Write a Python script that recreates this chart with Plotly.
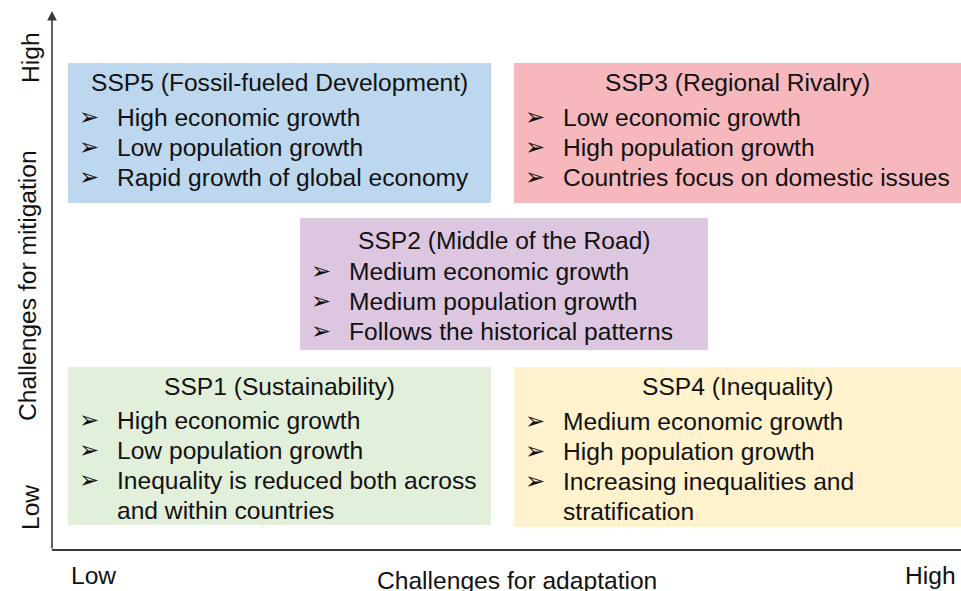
import plotly.graph_objects as go

# ---- data ----
scenarios = ["SSP5", "SSP3", "SSP2", "SSP1", "SSP4"]
titles = [
    "SSP5 (Fossil-fueled Development)",
    "SSP3 (Regional Rivalry)",
    "SSP2 (Middle of the Road)",
    "SSP1 (Sustainability)",
    "SSP4 (Inequality)",
]
bullets = [
    ["High economic growth", "Low population growth", "Rapid growth of global economy"],
    ["Low economic growth", "High population growth", "Countries focus on domestic issues"],
    ["Medium economic growth", "Medium population growth", "Follows the historical patterns"],
    ["High economic growth", "Low population growth",
     "Inequality is reduced both across<br>and within countries"],
    ["Medium economic growth", "High population growth",
     "Increasing inequalities and<br>stratification"],
]
colors = ["#BDD7EE", "#F6B8BC", "#DCC6E0", "#E2EFDA", "#FFF2CC"]
# box extents on the diagram canvas (adaptation axis -> x, mitigation axis -> y, top-down)
box_x0 = [68, 514, 300, 68, 514]
box_x1 = [491, 961, 708, 491, 961]
box_y0 = [63, 63, 218, 367, 367]
box_y1 = [203, 203, 350, 525, 527]
title_y = [82, 82, 240, 386, 386]
first_line_y = [117, 117, 271, 420, 421]

x_axis_title = "Challenges for adaptation"
y_axis_title = "Challenges for mitigation"
low_label, high_label = "Low", "High"

FONT = "Liberation Sans, Arial, DejaVu Sans, sans-serif"
FS = 24.6
LINE = 30

fig = go.Figure()
shapes = []
annotations = []

for i in range(len(scenarios)):
    shapes.append(dict(type="rect", xref="x", yref="y",
                       x0=box_x0[i], x1=box_x1[i], y0=box_y0[i], y1=box_y1[i],
                       fillcolor=colors[i], line=dict(width=0), layer="below"))
    annotations.append(dict(x=(box_x0[i] + box_x1[i]) / 2, y=title_y[i], xref="x", yref="y",
                            text=titles[i], showarrow=False, xanchor="center", yanchor="middle",
                            font=dict(family=FONT, size=FS, color="#111111")))
    y = first_line_y[i]
    for b in bullets[i]:
        annotations.append(dict(x=box_x0[i] + 9, y=y, xref="x", yref="y", text="➢",
                                showarrow=False, xanchor="left", yanchor="middle",
                                font=dict(family="DejaVu Sans", size=24, color="#111111")))
        for part in b.split("<br>"):
            annotations.append(dict(x=box_x0[i] + 47, y=y, xref="x", yref="y", text=part,
                                    showarrow=False, xanchor="left", yanchor="middle",
                                    font=dict(family=FONT, size=FS, color="#111111")))
            y += LINE

# axes lines
shapes.append(dict(type="line", xref="x", yref="y", x0=52, x1=961, y0=550, y1=550,
                   line=dict(color="#3a3a3a", width=2)))
annotations.append(dict(x=52, y=11, ax=52, ay=550, xref="x", yref="y", axref="x", ayref="y",
                        showarrow=True, arrowhead=2, arrowsize=1.2, arrowwidth=1.6,
                        arrowcolor="#3a3a3a", text=""))

# axis titles and low/high labels
annotations.append(dict(x=517, y=580, xref="x", yref="y", text=x_axis_title, showarrow=False,
                        xanchor="center", yanchor="middle",
                        font=dict(family=FONT, size=FS, color="#111111")))
annotations.append(dict(x=27, y=286, xref="x", yref="y", text=y_axis_title, showarrow=False,
                        textangle=-90, xanchor="center", yanchor="middle",
                        font=dict(family=FONT, size=FS, color="#111111")))
annotations.append(dict(x=93, y=575, xref="x", yref="y", text=low_label, showarrow=False,
                        xanchor="center", yanchor="middle",
                        font=dict(family=FONT, size=FS, color="#111111")))
annotations.append(dict(x=930, y=575, xref="x", yref="y", text=high_label, showarrow=False,
                        xanchor="center", yanchor="middle",
                        font=dict(family=FONT, size=FS, color="#111111")))
annotations.append(dict(x=30, y=58, xref="x", yref="y", text=high_label, showarrow=False,
                        textangle=-90, xanchor="center", yanchor="middle",
                        font=dict(family=FONT, size=FS, color="#111111")))
annotations.append(dict(x=30, y=508, xref="x", yref="y", text=low_label, showarrow=False,
                        textangle=-90, xanchor="center", yanchor="middle",
                        font=dict(family=FONT, size=FS, color="#111111")))

fig.update_layout(
    width=961, height=591,
    margin=dict(l=0, r=0, t=0, b=0),
    paper_bgcolor="white", plot_bgcolor="white",
    xaxis=dict(range=[0, 961], visible=False, fixedrange=True),
    yaxis=dict(range=[591, 0], visible=False, fixedrange=True),
    shapes=shapes, annotations=annotations, showlegend=False,
)
fig.write_html("out.html", config={"displayModeBar": False},
               post_script="document.body.style.margin='0px';document.body.style.overflow='hidden';")
